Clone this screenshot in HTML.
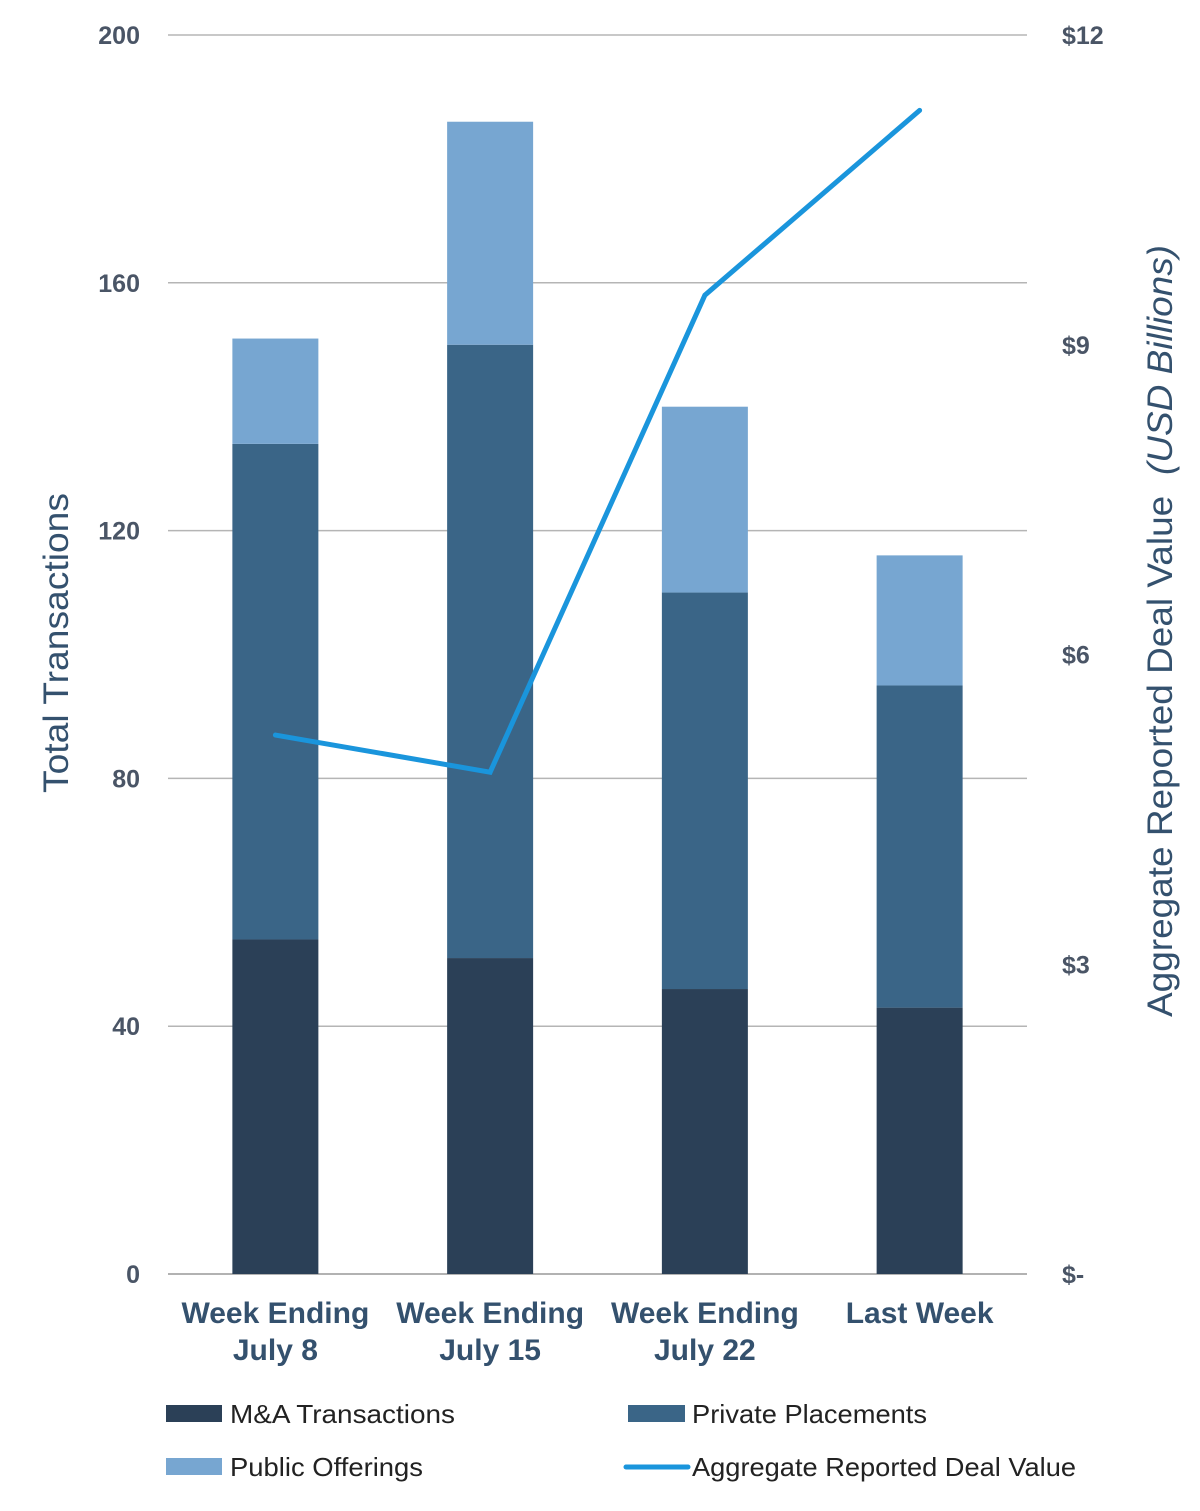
<!DOCTYPE html>
<html><head><meta charset="utf-8"><style>
html,body{margin:0;padding:0;background:#fff;}
svg{display:block;font-family:"Liberation Sans",sans-serif;}
</style></head><body>
<svg id="chart" width="1200" height="1511">
<g id="grid"></g>
<g id="bars"></g>
<g id="line"></g>
<g id="axes"></g>
<text transform="translate(68,643) rotate(-90)" text-anchor="middle" font-size="35" fill="#34516e" textLength="300" lengthAdjust="spacingAndGlyphs">Total Transactions</text>
<text transform="translate(1172,631) rotate(-90)" text-anchor="middle" font-size="35" fill="#34516e" textLength="772" lengthAdjust="spacingAndGlyphs">Aggregate Reported Deal Value <tspan font-style="italic" dx="10">(USD Billions)</tspan></text>
<g>
<rect x="166" y="1405" width="56" height="17" fill="#2b4057"/>
<text x="230" y="1423" font-size="26" fill="#222" textLength="225" lengthAdjust="spacingAndGlyphs">M&amp;A Transactions</text>
<rect x="628" y="1405" width="57" height="17" fill="#3a6587"/>
<text x="692" y="1423" font-size="26" fill="#222" textLength="235" lengthAdjust="spacingAndGlyphs">Private Placements</text>
<rect x="166" y="1458" width="56" height="17" fill="#77a6d1"/>
<text x="230" y="1476" font-size="26" fill="#222" textLength="193" lengthAdjust="spacingAndGlyphs">Public Offerings</text>
<line x1="626" y1="1467" x2="688" y2="1467" stroke="#1a95dc" stroke-width="5" stroke-linecap="round"/>
<text x="692" y="1476" font-size="26" fill="#222" textLength="384" lengthAdjust="spacingAndGlyphs">Aggregate Reported Deal Value</text>
</g>
</svg>
<script>
const categories=[["Week Ending","July 8"],["Week Ending","July 15"],["Week Ending","July 22"],["Last Week",""]];
const maValues=[54,51,46,43];
const ppValues=[80,99,64,52];
const poValues=[17,36,30,21];
const dealValues=[5.22,4.86,9.48,11.27];
const leftTicks=[0,40,80,120,160,200];
const rightTicks=[0,3,6,9,12];
const rightTickLabels=["$-","$3","$6","$9","$12"];
const NS="http://www.w3.org/2000/svg";
const X0=168,X1=1027,Y0=1274,YT=35;
function yL(v){return Y0-(v/200)*(Y0-YT);}
function yR(v){return Y0-(v/12)*(Y0-YT);}
function xC(i){return X0+(X1-X0)*(i+0.5)/categories.length;}
function mk(tag,attrs,parent){const e=document.createElementNS(NS,tag);for(const k in attrs)e.setAttribute(k,attrs[k]);parent.appendChild(e);return e;}
const grid=document.getElementById('grid'),bars=document.getElementById('bars'),line=document.getElementById('line'),axes=document.getElementById('axes');
leftTicks.forEach(t=>{
 const l=mk('line',{x1:X0,x2:X1,y1:yL(t),y2:yL(t),stroke:t===0?'#999':'#b5b5b5','stroke-width':1.5},grid);
 
 
 const tx=mk('text',{x:140,y:yL(t)+9,'text-anchor':'end','font-size':25,'font-weight':'bold',fill:'#4a5566'},axes);
 tx.textContent=t;
 
 
});
rightTicks.forEach((t,i)=>{
 const tx=mk('text',{x:1062,y:yR(t)+9,'font-size':25,'font-weight':'bold',fill:'#4a5566'},axes);
 tx.textContent=rightTickLabels[i];
 
 
});
const BW=86;
categories.forEach((c,i)=>{
 const cx=xC(i);
 const segs=[[0,maValues[i],'#2b4057','ma'],[maValues[i],maValues[i]+ppValues[i],'#3a6587','pp'],[maValues[i]+ppValues[i],maValues[i]+ppValues[i]+poValues[i],'#77a6d1','po']];
 segs.forEach(s=>{
  const r=mk('rect',{x:cx-BW/2,y:yL(s[1]),width:BW,height:yL(s[0])-yL(s[1]),fill:s[2]},bars);
  
  
 });
 c.forEach((ln,j)=>{
  if(!ln)return;
  const tx=mk('text',{x:cx,y:1323+j*37,'text-anchor':'middle','font-size':30,'font-weight':'bold',fill:'#34516e'},axes);
  tx.textContent=ln;
  
  
 });
});
const pts=dealValues.map((v,i)=>xC(i)+','+yR(v)).join(' ');
const pl=mk('polyline',{points:pts,fill:'none',stroke:'#1a95dc','stroke-width':5,'stroke-linecap':'round','stroke-linejoin':'miter'},line);


</script>
</body></html>
